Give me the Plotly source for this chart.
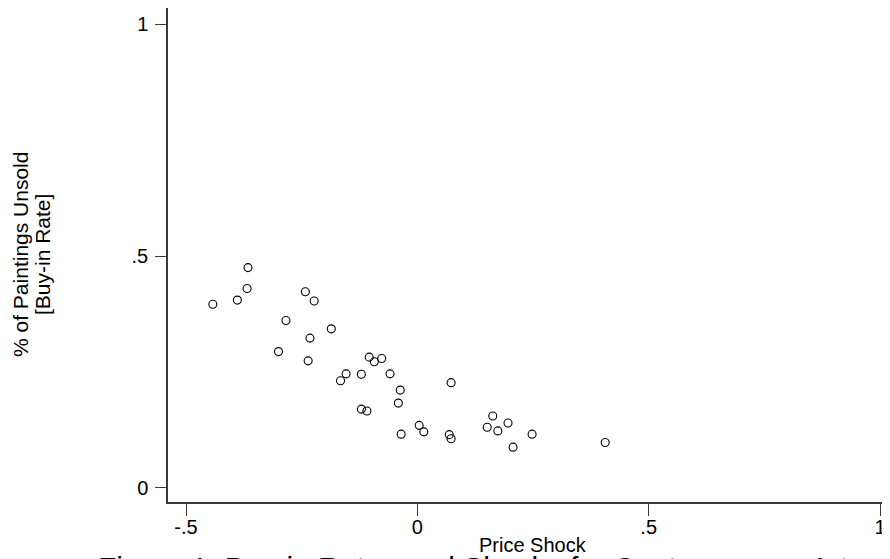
import plotly.graph_objects as go

# Data
price_shock = [-0.366, -0.368, -0.389, -0.442, -0.242, -0.223, -0.284, -0.186,
               -0.232, -0.300, -0.236, -0.104, -0.093, -0.077, -0.154, -0.166,
               -0.121, -0.059, -0.037, -0.041, 0.073, -0.121, -0.109, 0.004,
               0.014, -0.035, 0.069, 0.073, 0.163, 0.151, 0.174, 0.196,
               0.248, 0.207, 0.406]
buyin_rate = [0.475, 0.430, 0.405, 0.396, 0.423, 0.403, 0.361, 0.343,
              0.323, 0.294, 0.274, 0.282, 0.272, 0.279, 0.246, 0.231,
              0.245, 0.246, 0.211, 0.183, 0.227, 0.170, 0.166, 0.135,
              0.121, 0.116, 0.115, 0.106, 0.155, 0.131, 0.123, 0.140,
              0.116, 0.088, 0.098]

x_tick_vals = [-0.5, 0, 0.5, 1]
x_tick_text = ["-.5", "0", ".5", "1"]
y_tick_vals = [0, 0.5, 1]
y_tick_text = ["0", ".5", "1"]

x_title = "Price Shock"
y_title_1 = "% of Paintings Unsold"
y_title_2 = "[Buy-in Rate]"
caption = "Figure 1: Buy-in Rates and Shocks for Contemporary Art"

FONT = "Liberation Sans, Arial, Helvetica, sans-serif"
OFF = 8  # page body margin of the browser
W, H = 890 - OFF, 559 - OFF
L, T = 168 - OFF, 8 - OFF
PLOT_BOTTOM = 502 - OFF
R, B = 0, H - PLOT_BOTTOM
PW, PH = W - L - R, H - T - B


def px_to_paper_x(px):
    # px given in screen pixels of the reference
    return (px - OFF - L) / PW


def px_to_paper_y(py):
    return (PLOT_BOTTOM - (py - OFF)) / PH


fig = go.Figure()
fig.add_trace(go.Scatter(
    x=price_shock, y=buyin_rate, mode="markers",
    marker=dict(symbol="circle-open", size=8, color="black",
                line=dict(width=1.1, color="black")),
    showlegend=False, hoverinfo="skip"))

axis_color = "#3a3a3a"
fig.update_xaxes(
    range=[-0.5389, 1.0216], tickmode="array", tickvals=x_tick_vals,
    ticktext=x_tick_text, ticks="outside", ticklen=12, tickwidth=1.2,
    tickcolor=axis_color, showline=True, linecolor=axis_color, linewidth=1.5,
    showgrid=False, zeroline=False, ticklabelstandoff=-6,
    tickfont=dict(family=FONT, size=20, color="black"))
fig.update_yaxes(
    range=[-0.0302, 1.0345], tickmode="array", tickvals=y_tick_vals,
    ticktext=y_tick_text, ticks="outside", ticklen=11, tickwidth=1.2,
    tickcolor=axis_color, showline=True, linecolor=axis_color, linewidth=1.5,
    showgrid=False, zeroline=False, ticklabelstandoff=3,
    tickfont=dict(family=FONT, size=20, color="black"))

annotations = [
    dict(text=x_title, x=px_to_paper_x(533), y=px_to_paper_y(545),
         xref="paper", yref="paper", xanchor="center", yanchor="middle",
         showarrow=False, font=dict(family=FONT, size=20, color="black")),
    dict(text=y_title_1, x=px_to_paper_x(20), y=px_to_paper_y(255),
         xref="paper", yref="paper", xanchor="center", yanchor="middle",
         textangle=-90, showarrow=False,
         font=dict(family=FONT, size=21, color="black")),
    dict(text=y_title_2, x=px_to_paper_x(42), y=px_to_paper_y(255),
         xref="paper", yref="paper", xanchor="center", yanchor="middle",
         textangle=-90, showarrow=False,
         font=dict(family=FONT, size=21, color="black")),
    dict(text=caption, x=px_to_paper_x(96), y=px_to_paper_y(548.5),
         xref="paper", yref="paper", xanchor="left", yanchor="top",
         showarrow=False, font=dict(family=FONT, size=30, color="black")),
]

fig.update_layout(
    width=W, height=H, margin=dict(l=L, r=R, t=T, b=B, pad=0),
    paper_bgcolor="white", plot_bgcolor="white",
    annotations=annotations, showlegend=False)

fig.write_html("out.html")
